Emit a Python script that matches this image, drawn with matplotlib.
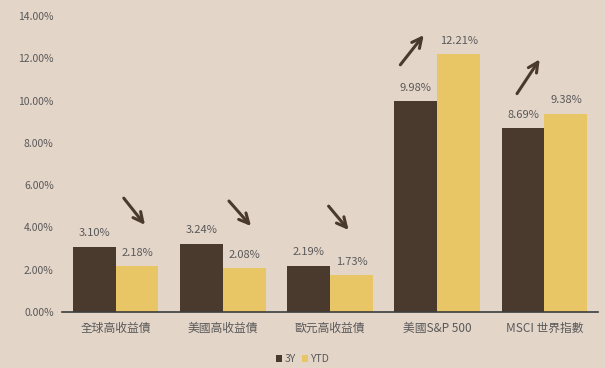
import matplotlib.pyplot as plt
import numpy as np

plt.rcParams['font.family'] = ['Noto Sans CJK TC', 'DejaVu Sans']

categories = ["全球高收益債", "美國高收益債", "歐元高收益債", "美國S&P 500", "MSCI 世界指數"]
ret_3y = [3.10, 3.24, 2.19, 9.98, 8.69]
ret_ytd = [2.18, 2.08, 1.73, 12.21, 9.38]
series_names = ["3Y", "YTD"]

# trend arrows (start -> tip) in data coords
arrows = [
    ((0.06, 5.49), (0.29, 4.02)),
    ((1.04, 5.35), (1.28, 3.97)),
    ((1.97, 5.11), (2.19, 3.78)),
    ((2.64, 11.59), (2.89, 13.2)),
    ((3.73, 10.22), (3.97, 12.06)),
]

bg = "#E4D5C9"
dark = "#4A3A2E"
gold = "#E8C665"
txt = "#595959"

fig = plt.figure(figsize=(6.05, 3.68), dpi=100, facecolor=bg)
ax = fig.add_axes([0.1025, 0.152, 0.886, 0.8045], facecolor=bg)

x = np.arange(len(categories))
w = 0.4
b1 = ax.bar(x - w / 2, ret_3y, w, color=dark, label=series_names[0])
b2 = ax.bar(x + w / 2, ret_ytd, w, color=gold, label=series_names[1])

for bars, vals in ((b1, ret_3y), (b2, ret_ytd)):
    for r, v in zip(bars, vals):
        ax.annotate(f"{v:.2f}%", (r.get_x() + r.get_width() / 2, v),
                    xytext=(0, 6), textcoords="offset points",
                    ha="center", va="bottom", fontsize=8, color=txt)

for start, tip in arrows:
    ax.annotate("", xy=tip, xytext=start,
                arrowprops=dict(arrowstyle="->,head_length=0.7,head_width=0.35",
                                color="#4A3A2E", lw=2.2))

ax.set_xlim(-0.5, 4.5)
ax.set_ylim(0, 14)
ax.set_yticks(np.arange(0, 15, 2))
ax.set_yticklabels([f"{v:.2f}%" for v in np.arange(0, 15, 2)])
ax.set_xticks(x)
ax.set_xticklabels(categories, fontsize=8.5)
ax.tick_params(axis="both", length=0, colors=txt)
ax.tick_params(axis="y", labelsize=7.5, pad=6)
ax.tick_params(axis="x", pad=7)

for s in ("left", "right", "top"):
    ax.spines[s].set_visible(False)
ax.spines["bottom"].set_color("#3d3d3d")
ax.spines["bottom"].set_linewidth(1.2)

fig.legend(loc="lower center", bbox_to_anchor=(0.5, -0.015), ncol=2, frameon=False,
           fontsize=7.5, handlelength=0.6, handleheight=0.6, handletextpad=0.2,
           columnspacing=0.6, labelcolor=txt)

fig.savefig("out.png", dpi=100, facecolor=bg)
